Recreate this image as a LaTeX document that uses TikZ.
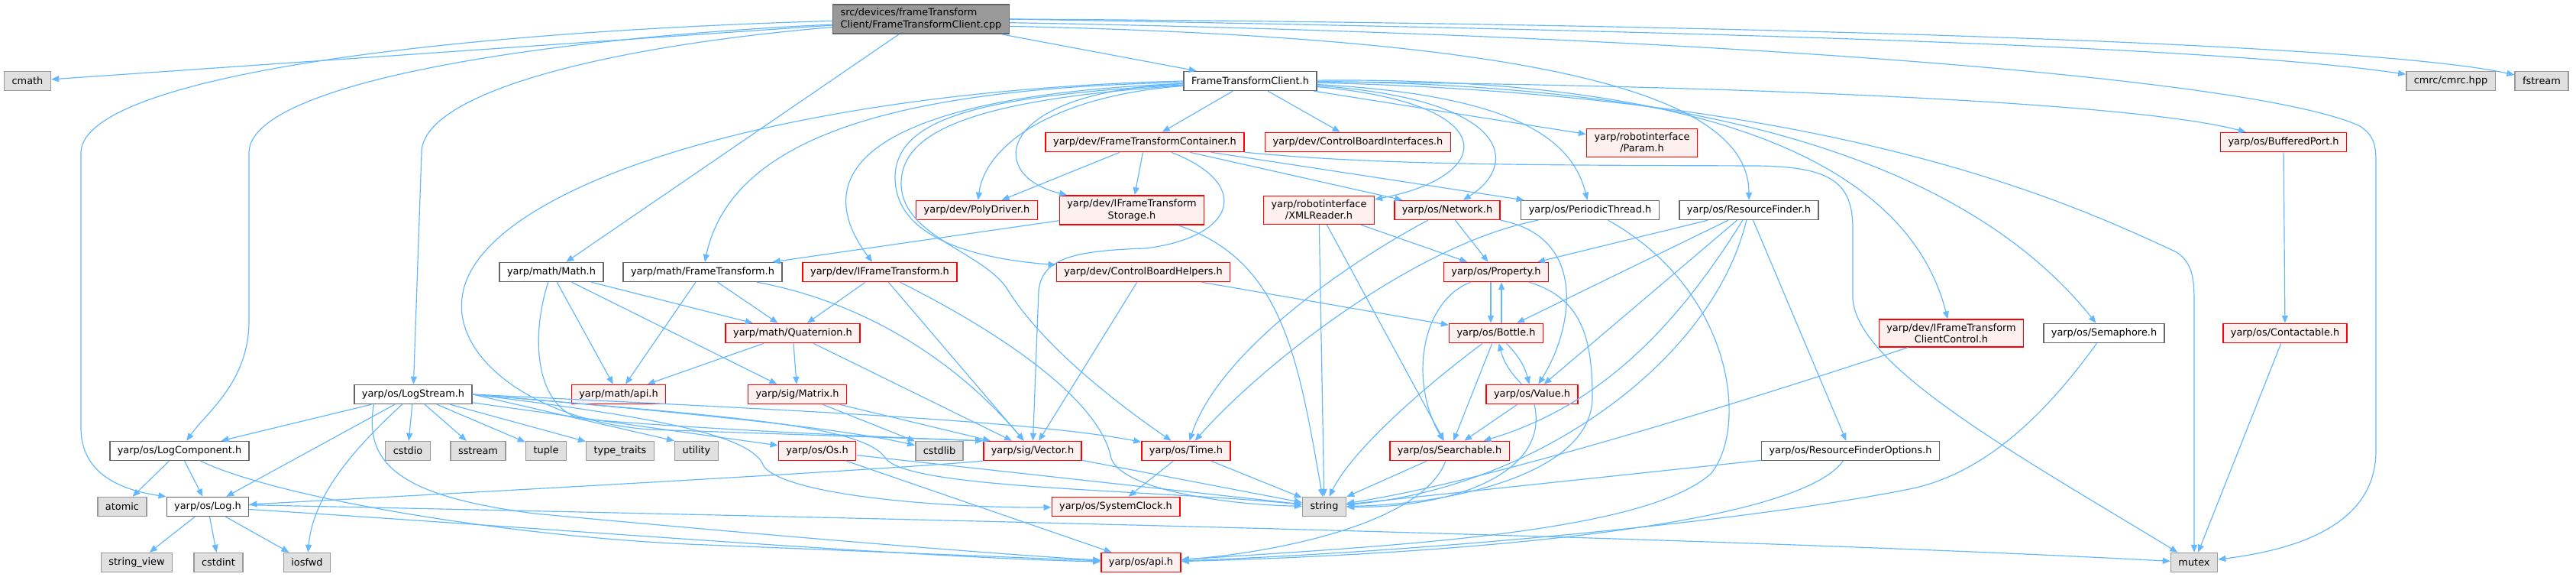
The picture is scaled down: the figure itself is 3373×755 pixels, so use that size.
\documentclass[tikz,border=0pt]{standalone}
\usepackage{fontspec}
\setmainfont{DejaVu Sans}
\usepackage{xcolor}
\definecolor{link}{HTML}{63B8FF}
\definecolor{hdrframe}{HTML}{666666}
\definecolor{sysfill}{HTML}{E0E0E0}
\definecolor{sysframe}{HTML}{999999}
\definecolor{cutfill}{HTML}{FFF0F0}
\definecolor{cutframe}{HTML}{FF0000}
\definecolor{rootfill}{HTML}{999999}
\usepackage{tikz}
\usetikzlibrary{arrows.meta}

\begin{document}
\begin{tikzpicture}[x=0.03cm,y=-0.03cm,font=\fontsize{11}{13}\selectfont,
  box/.style={draw,line width=1.2pt,minimum height=0.75cm,inner xsep=0.3cm,inner ysep=0.16cm,align=center},
  hdrbox/.style={box,draw=hdrframe,fill=white},
  cutbox/.style={box,draw=cutframe,fill=cutfill},
  sysbox/.style={box,draw=sysframe,fill=sysfill},
  rootbox/.style={box,draw=hdrframe,fill=rootfill,align=left},
  inc/.style={draw=link,line width=1pt,-{Triangle[length=0.3cm,width=0.24cm]}}]
  \useasboundingbox (0,0) rectangle (3373,755);
  \fill[white] (0,0) rectangle (3373,755);
  % the source file and its first row
  \node[rootbox] (src) at (1206,25) {src/devices/frameTransform\\Client/FrameTransformClient.cpp};
  \node[sysbox] (cmath) at (36,106) {cmath};
  \node[hdrbox] (ftc) at (1637,106) {FrameTransformClient.h};
  \node[sysbox] (cmrc) at (3209,106) {cmrc/cmrc.hpp};
  \node[sysbox] (fstream) at (3328,106) {fstream};
  % device headers
  \node[cutbox] (ftcont) at (1499,186) {yarp/dev/FrameTransformContainer.h};
  \node[cutbox] (cbint) at (1778,186) {yarp/dev/ControlBoardInterfaces.h};
  \node[cutbox] (param) at (2150,187) {yarp/robotinterface\\/Param.h};
  \node[cutbox] (bport) at (2990,186) {yarp/os/BufferedPort.h};
  \node[cutbox] (poly) at (1279,275) {yarp/dev/PolyDriver.h};
  \node[cutbox] (ifts) at (1482,275) {yarp/dev/IFrameTransform\\Storage.h};
  \node[cutbox] (xmlr) at (1727,275) {yarp/robotinterface\\/XMLReader.h};
  \node[cutbox] (network) at (1895,275) {yarp/os/Network.h};
  \node[hdrbox] (pthread) at (2082,275) {yarp/os/PeriodicThread.h};
  \node[hdrbox] (rfinder) at (2290,275) {yarp/os/ResourceFinder.h};
  % math and property layer
  \node[hdrbox] (mathh) at (722,356) {yarp/math/Math.h};
  \node[hdrbox] (ftrans) at (920,356) {yarp/math/FrameTransform.h};
  \node[cutbox] (iftrans) at (1152,356) {yarp/dev/IFrameTransform.h};
  \node[cutbox] (cbhelp) at (1497,356) {yarp/dev/ControlBoardHelpers.h};
  \node[cutbox] (property) at (1959,356) {yarp/os/Property.h};
  \node[cutbox] (quat) at (1038,436) {yarp/math/Quaternion.h};
  \node[cutbox] (bottle) at (1959,436) {yarp/os/Bottle.h};
  \node[cutbox] (clientctl) at (2555,436) {yarp/dev/IFrameTransform\\ClientControl.h};
  \node[hdrbox] (semaphore) at (2755,436) {yarp/os/Semaphore.h};
  \node[cutbox] (contact) at (2992,436) {yarp/os/Contactable.h};
  \node[hdrbox] (logstream) at (541,516) {yarp/os/LogStream.h};
  \node[cutbox] (mathapi) at (810,516) {yarp/math/api.h};
  \node[cutbox] (matrix) at (1044,516) {yarp/sig/Matrix.h};
  \node[cutbox] (value) at (2006,516) {yarp/os/Value.h};
  % lower rows
  \node[hdrbox] (logcomp) at (235,590) {yarp/os/LogComponent.h};
  \node[sysbox] (cstdio) at (534,590) {cstdio};
  \node[sysbox] (sstream) at (626,590) {sstream};
  \node[sysbox] (tuple) at (715,590) {tuple};
  \node[sysbox] (typetr) at (812,590) {type\_traits};
  \node[sysbox] (utility) at (912,590) {utility};
  \node[cutbox] (os) at (1070,590) {yarp/os/Os.h};
  \node[sysbox] (cstdlib) at (1230,590) {cstdlib};
  \node[cutbox] (vector) at (1352,590) {yarp/sig/Vector.h};
  \node[cutbox] (time) at (1553,590) {yarp/os/Time.h};
  \node[cutbox] (search) at (1898,590) {yarp/os/Searchable.h};
  \node[hdrbox] (rfopt) at (2423,590) {yarp/os/ResourceFinderOptions.h};
  \node[sysbox] (atomic) at (160,663) {atomic};
  \node[hdrbox] (log) at (272,663) {yarp/os/Log.h};
  \node[cutbox] (sysclock) at (1461,663) {yarp/os/SystemClock.h};
  \node[sysbox] (string) at (1734,663) {string};
  \node[sysbox] (strview) at (179,736) {string\_view};
  \node[sysbox] (cstdint) at (286,736) {cstdint};
  \node[sysbox] (iosfwd) at (402,736) {iosfwd};
  \node[cutbox] (osapi) at (1494,736) {yarp/os/api.h};
  \node[sysbox] (mutex) at (2873,736) {mutex};

  % straight includes
  \foreach \a/\b in {src/ftc, src/cmath, src/mathh,
      ftc/ftcont, ftc/cbint, ftc/param,
      ftcont/poly, ftcont/ifts, ftcont/network, ftcont/pthread,
      ifts/ftrans, xmlr/property, xmlr/search, xmlr/string,
      network/property, rfinder/property, rfinder/bottle, rfinder/value, rfinder/rfopt,
      cbhelp/bottle, cbhelp/vector,
      mathh/mathapi, mathh/quat, mathh/matrix,
      ftrans/mathapi, ftrans/quat, iftrans/quat, iftrans/vector,
      quat/mathapi, quat/matrix, quat/vector, matrix/cstdlib, matrix/vector,
      bottle/search, value/search, search/string, rfopt/string,
      time/sysclock, time/string, os/osapi, os/string, vector/string,
      logstream/logcomp, logstream/log, logstream/cstdio, logstream/sstream,
      logstream/tuple, logstream/typetr, logstream/os,
      logcomp/atomic, logcomp/log, log/strview, log/cstdint, log/iosfwd,
      bport/contact, contact/mutex}
    \draw[inc] (\a) -- (\b);

  % from the source file
  \draw[inc] ([yshift=-2pt]src.west) .. controls (500,45) and (106,110) .. (106,200) -- (106,560)
     .. controls (106,615) and (150,640) .. (log.north west);
  \draw[inc] ([yshift=-6pt]src.west) .. controls (700,50) and (326,110) .. (326,200) -- (326,420)
     .. controls (326,500) and (270,540) .. (logcomp);
  \draw[inc] ([yshift=-9pt]src.west) .. controls (800,60) and (552,120) .. (552,200) -- (logstream);
  \draw[inc] (src.east) .. controls (2200,40) and (2900,60) .. (cmrc);
  \draw[inc] (src.east) .. controls (2200,30) and (3100,55) .. (fstream);
  \draw[inc] ([yshift=-4pt]src.east) .. controls (2200,45) and (2950,100) .. (3090,165)
     .. controls (3105,175) and (3111,185) .. (3111,210) -- (3111,590)
     .. controls (3111,690) and (3000,720) .. (mutex);
  \draw[inc] ([yshift=-8pt]src.east) .. controls (2050,50) and (2290,130) .. (rfinder);

  % from FrameTransformClient.h
  \draw[inc] (ftc) .. controls (1970,135) and (1960,230) .. (xmlr);
  \draw[inc] (ftc) .. controls (1980,130) and (1990,215) .. (network);
  \draw[inc] (ftc) .. controls (2000,125) and (2060,190) .. (pthread);
  \draw[inc] (ftc) .. controls (1380,125) and (1290,190) .. (poly);
  \draw[inc] (ftc) .. controls (1300,120) and (1290,230) .. (ifts);
  \draw[inc] (ftc) .. controls (1200,115) and (960,170) .. (ftrans);
  \draw[inc] (ftc) .. controls (1150,125) and (1050,220) .. (iftrans);
  \draw[inc] (ftc) .. controls (1300,125) and (1175,150) .. (1172,230)
     .. controls (1170,320) and (1300,340) .. (cbhelp);
  \draw[inc] (ftc) .. controls (1280,130) and (1180,170) .. (1180,240)
     .. controls (1180,310) and (1290,330) .. (1320,380)
     .. controls (1370,460) and (1480,540) .. (time);
  \draw[inc] (ftc.west) .. controls (1000,120) and (620,250) .. (605,390)
     .. controls (595,470) and (700,550) .. (850,562) -- (vector.north west);
  \draw[inc] (ftc) .. controls (2300,112) and (2800,135) .. (bport);
  \draw[inc] (ftc) .. controls (2150,110) and (2550,180) .. (semaphore);
  \draw[inc] (ftc) .. controls (2250,100) and (2500,220) .. (clientctl);
  \draw[inc] (ftc) .. controls (2400,125) and (2700,260) .. (2850,330)
     .. controls (2873,345) and (2873,370) .. (2873,400) -- (mutex);

  % container, storage and interfaces
  \draw[inc] (ftcont) .. controls (1640,240) and (1620,310) .. (1500,325)
     .. controls (1400,328) and (1365,340) .. (1360,380) -- (vector);
  \draw[inc] (ftcont.south east) .. controls (1800,216) and (2000,216) .. (2300,217)
     .. controls (2400,218) and (2426,240) .. (2426,300) -- (2426,390)
     .. controls (2430,480) and (2650,600) .. (mutex);
  \draw[inc] (ifts) .. controls (1680,340) and (1700,470) .. (string);
  \draw[inc] (iftrans) .. controls (1300,430) and (1440,520) .. (1455,600)
     .. controls (1470,640) and (1600,660) .. (string);
  \draw[inc] (ftrans) .. controls (1130,395) and (1250,470) .. (vector);
  \draw[inc] (mathh) .. controls (695,440) and (700,530) .. (760,548)
     .. controls (900,560) and (1100,570) .. (vector.north west);

  % yarp/os headers
  \draw[inc] (network) .. controls (2080,310) and (2060,430) .. (value);
  \draw[inc] (network) .. controls (1790,330) and (1600,450) .. (time);
  \draw[inc] (pthread) .. controls (1850,320) and (1650,480) .. (time);
  \draw[inc] (pthread) .. controls (2270,380) and (2290,560) .. (2240,620)
     .. controls (2150,700) and (1800,715) .. (osapi);
  \draw[inc] (rfinder) .. controls (2200,420) and (2100,530) .. (search);
  \draw[inc] (rfinder) .. controls (2240,480) and (2000,640) .. (string);
  \draw[inc] ([xshift=-6pt]property.south) -- ([xshift=-6pt]bottle.north);
  \draw[inc] ([xshift=6pt]bottle.north) -- ([xshift=6pt]property.south);
  \draw[inc] (property) .. controls (1860,395) and (1845,500) .. (search);
  \draw[inc] (property) .. controls (2070,390) and (2085,440) .. (2085,520)
     .. controls (2085,620) and (1900,660) .. (string);
  \draw[inc] (bottle) to[bend left=15] (value);
  \draw[inc] (value) to[bend left=15] (bottle);
  \draw[inc] (bottle) .. controls (1860,510) and (1770,590) .. (string);
  \draw[inc] (value) .. controls (2030,620) and (1900,665) .. (string);
  \draw[inc] (search) .. controls (1860,690) and (1650,725) .. (osapi);
  \draw[inc] (rfopt) .. controls (2350,690) and (1900,725) .. (osapi);
  \draw[inc] (clientctl) .. controls (2300,520) and (1950,630) .. (string);
  \draw[inc] (semaphore) .. controls (2680,540) and (2600,620) .. (2500,640)
     .. controls (2300,680) and (1900,720) .. (osapi);

  % logging
  \draw[inc] (logstream.east) -- (utility.north west);
  \draw[inc] (logstream) .. controls (460,590) and (410,650) .. (iosfwd);
  \draw[inc] (logstream.east) .. controls (900,540) and (1100,560) .. (cstdlib);
  \draw[inc] (logstream.east) .. controls (1000,535) and (1350,550) .. (time);
  \draw[inc] (logstream.east) .. controls (850,545) and (985,568) .. (1000,610)
     .. controls (1030,650) and (1250,665) .. (sysclock);
  \draw[inc] (logstream.east) .. controls (950,545) and (1130,555) .. (1160,600)
     .. controls (1190,640) and (1500,640) .. (string);
  \draw[inc] ([xshift=-44pt]logstream.south) .. controls (475,610) and (530,650) .. (700,672)
     .. controls (1000,700) and (1300,725) .. (osapi);
  \draw[inc] (logcomp) .. controls (360,650) and (650,700) .. (900,712) -- (osapi);
  \draw[inc] ([yshift=2pt]log.east) .. controls (1000,675) and (2200,700) .. (mutex);
  \draw[inc] ([yshift=-3pt]log.east) .. controls (700,690) and (1200,730) .. (osapi);
  \draw[inc] (vector.south west) .. controls (1150,615) and (700,640) .. (log);
\end{tikzpicture}
\end{document}
